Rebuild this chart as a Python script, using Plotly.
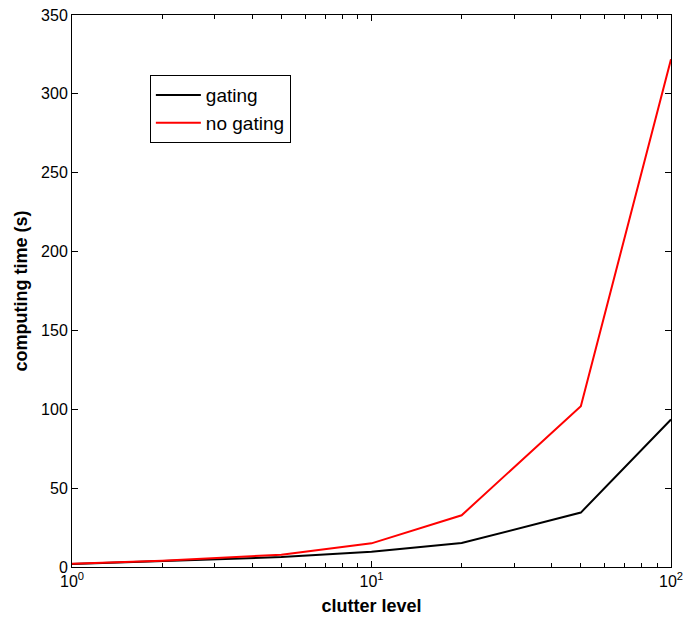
import plotly.graph_objects as go

# clutter levels and measured computing times (seconds)
clutter = [1, 2, 5, 10, 20, 50, 100]
time_gating = [1.9, 3.8, 6.3, 9.7, 15.2, 34.5, 93.5]
time_no_gating = [2.0, 4.0, 7.8, 15.0, 32.8, 102.0, 322.0]

x_tick_vals = [1, 10, 100]
x_tick_text = ["10<sup>0</sup>", "10<sup>1</sup>", "10<sup>2</sup>"]
y_tick_vals = [0, 50, 100, 150, 200, 250, 300, 350]
minor_vals = [2, 3, 4, 5, 6, 7, 8, 9, 20, 30, 40, 50, 60, 70, 80, 90]

fig = go.Figure()
fig.add_trace(go.Scatter(x=clutter, y=time_gating, mode="lines", name="gating",
                         line=dict(color="#000000", width=2)))
fig.add_trace(go.Scatter(x=clutter, y=time_no_gating, mode="lines", name="no gating",
                         line=dict(color="#ff0000", width=2)))

font_family = "Liberation Sans, Arial, sans-serif"

fig.update_layout(
    width=685, height=621,
    margin=dict(l=72, r=14, t=15, b=54, autoexpand=False),
    paper_bgcolor="white", plot_bgcolor="white",
    font=dict(family=font_family, size=16, color="#000000"),
    showlegend=True,
    legend=dict(x=0.13, y=0.891, xanchor="left", yanchor="top",
                bgcolor="white", bordercolor="#000000", borderwidth=1,
                font=dict(size=19), tracegroupgap=0, itemwidth=45),
    xaxis=dict(
        type="log", range=[0, 2],
        tickvals=x_tick_vals, ticktext=x_tick_text,
        ticks="inside", ticklen=6, tickcolor="#000000",
        showline=True, linecolor="#000000", linewidth=1, mirror="ticks",
        showgrid=False, zeroline=False,
        minor=dict(tickvals=minor_vals, ticks="inside", ticklen=4,
                   tickcolor="#000000", showgrid=False),
        title=dict(text="<b>clutter level</b>", font=dict(size=18), standoff=10),
        tickfont=dict(size=16),
    ),
    yaxis=dict(
        range=[0, 350], tickvals=y_tick_vals,
        ticks="inside", ticklen=6, tickcolor="#000000",
        showline=True, linecolor="#000000", linewidth=1, mirror="ticks",
        showgrid=False, zeroline=False,
        title=dict(text="<b>computing time (s)</b>", font=dict(size=18), standoff=8),
        tickfont=dict(size=16),
    ),
)

fig.write_html("out.html")
